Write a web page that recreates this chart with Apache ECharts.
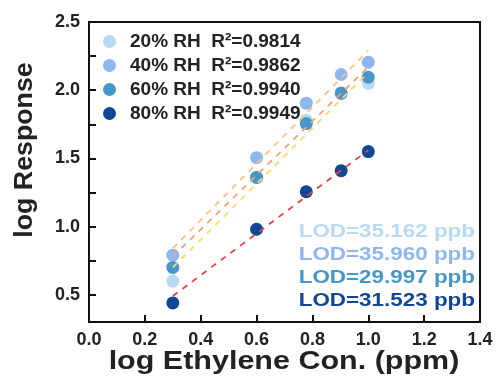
<!DOCTYPE html>
<html>
<head>
<meta charset="utf-8">
<script src="https://cdn.jsdelivr.net/npm/echarts@6/dist/echarts.min.js"></script>
<style>
  html, body { margin: 0; padding: 0; background: #fff; }
  #chart { width: 500px; height: 376px; }
</style>
</head>
<body>
<div id="chart"></div>
<script>
// log concentration (x) for each measurement
const xLog = [0.3, 0.6, 0.778, 0.903, 1.0];

// log response per humidity level
const rh20 = [0.60, 1.36, 1.78, 1.97, 2.05];
const rh40 = [0.79, 1.505, 1.905, 2.115, 2.205];
const rh60 = [0.70, 1.36, 1.755, 1.98, 2.095];
const rh80 = [0.44, 0.98, 1.255, 1.41, 1.55];

// fitted lines, read at both ends
const fitX = [0.3, 1.0];
const fit20 = [0.70, 2.13];
const fit40 = [0.84, 2.29];
const fit60 = [0.78, 2.17];
const fit80 = [0.49, 1.56];

const seriesNames = ['20% RH', '40% RH', '60% RH', '80% RH'];
const r2Values = ['0.9814', '0.9862', '0.9940', '0.9949'];
const lodValues = ['35.162', '35.960', '29.997', '31.523'];

const xTicks = [0, 0.2, 0.4, 0.6, 0.8, 1.0, 1.2, 1.4];
const yLabels = [0.5, 1.0, 1.5, 2.0, 2.5];
const yTicks = [0.5, 0.75, 1.0, 1.25, 1.5, 1.75, 2.0, 2.25, 2.5];

const dotColors = ['#b9daf3', '#8db7ee', '#4497c7', '#0e4796'];
const fitColors = ['#ffd868', '#ffbf80', '#f2a07c', '#f23f3f'];

const FONT = '"Liberation Sans", Arial, sans-serif';
const INK = '#222';

const chart = echarts.init(document.getElementById('chart'));

const pts = ys => xLog.map((x, i) => [x, ys[i]]);
const seg = ys => fitX.map((x, i) => [x, ys[i]]);

const scatter = [rh20, rh40, rh60, rh80].map((ys, i) => ({
  name: seriesNames[i],
  type: 'scatter',
  symbolSize: 13,
  itemStyle: { color: dotColors[i], opacity: 1 },
  z: 2 + i,
  data: pts(ys)
}));

const fits = [fit20, fit40, fit60, fit80].map((ys, i) => ({
  name: 'fit' + i,
  type: 'line',
  showSymbol: false,
  silent: true,
  z: 10,
  lineStyle: { color: fitColors[i], width: 1.8, type: [6, 6] },
  data: seg(ys)
}));

const lodText = lodValues.map((v, i) => ({
  type: 'text',
  x: 475,
  y: 232 + i * 23,
  scaleX: 1.18,
  style: {
    text: 'LOD=' + v + ' ppb',
    font: 'bold 19px ' + FONT,
    fill: dotColors[i],
    align: 'right',
    verticalAlign: 'middle'
  }
}));

chart.setOption({
  animation: false,
  grid: {
    left: 89, right: 20, top: 22, bottom: 54,
    show: true, borderColor: '#111', borderWidth: 2
  },
  legend: {
    data: seriesNames,
    orient: 'vertical',
    left: 98,
    top: 27,
    itemWidth: 13,
    itemHeight: 13,
    itemGap: 5,
    icon: 'circle',
    formatter: name => name + '  R\u00b2=' + r2Values[seriesNames.indexOf(name)],
    textStyle: { fontFamily: FONT, fontWeight: 'bold', fontSize: 19, color: INK, padding: [0, 0, 0, 9] }
  },
  xAxis: {
    type: 'value',
    min: 0, max: 1.4,
    axisLine: { lineStyle: { color: '#111', width: 2 } },
    axisTick: { inside: true, length: 7, lineStyle: { color: '#111', width: 2 }, customValues: xTicks },
    axisLabel: {
      customValues: xTicks,
      formatter: v => v.toFixed(1),
      fontFamily: FONT, fontWeight: 'bold', fontSize: 18, color: INK, margin: 9
    },
    splitLine: { show: false }
  },
  yAxis: {
    type: 'value',
    min: 0.3, max: 2.5,
    axisLine: { show: true, lineStyle: { color: '#111', width: 2 } },
    axisTick: { show: true, inside: true, length: 7, lineStyle: { color: '#111', width: 2 }, customValues: yTicks },
    axisLabel: {
      customValues: yLabels,
      formatter: v => v.toFixed(1),
      fontFamily: FONT, fontWeight: 'bold', fontSize: 18, color: INK, margin: 9
    },
    splitLine: { show: false }
  },
  graphic: [
    {
      type: 'text',
      x: 25, y: 150,
      rotation: Math.PI / 2,
      scaleX: 1.07,
      style: {
        text: 'log Response',
        font: 'bold 25px ' + FONT,
        fill: INK,
        align: 'center',
        verticalAlign: 'middle'
      }
    },
    {
      type: 'text',
      x: 284, y: 362,
      scaleX: 1.22,
      style: {
        text: 'log Ethylene Con. (ppm)',
        font: 'bold 25px ' + FONT,
        fill: INK,
        align: 'center',
        verticalAlign: 'middle'
      }
    },
    ...lodText
  ],
  series: [...scatter, ...fits]
});
</script>
</body>
</html>
